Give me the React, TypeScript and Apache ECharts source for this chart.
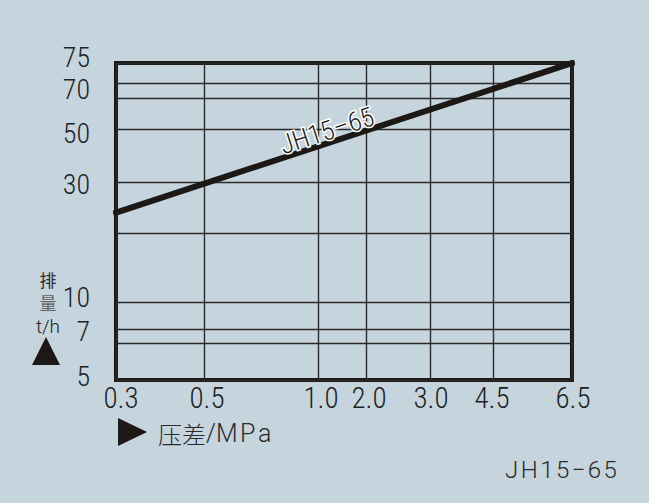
import React, { useEffect, useRef } from "react";
import * as echarts from "echarts";

// ---- data ----
const xTickValues = [0.3, 0.5, 1.0, 2.0, 3.0, 4.5, 6.5];
const xTickLabels = ["0.3", "0.5", "1.0", "2.0", "3.0", "4.5", "6.5"];
const yGridValues = [5, 6, 7, 10, 20, 30, 50, 60, 70, 75];
const yLabelValues = [5, 7, 10, 30, 50, 70];
const yTopLabelValues = [75];
const seriesName = "JH15–65";
const flowX = [0.3, 6.5];
const flowY = [24, 75];

// ---- the chart's own (hand-drawn, non-uniform) scales ----
const xScaleStops = [0, 88, 202, 250, 314, 377, 456];
const yScaleStops = [0, 37, 51, 78, 147, 198, 251, 282, 297, 317];

// label nudges (px) as printed in the original
const yLabelNudge: Record<string, number> = { "75": -6, "70": 6, "50": 4, "30": 2, "10": -5, "7": 2, "5": -4 };
const xLabelNudge: Record<string, number> = { "0.3": 5, "0.5": 3, "1.0": 3, "2.0": 3, "3.0": 1, "4.5": -1, "6.5": 1 };

function interp(v: number, vals: number[], stops: number[]) {
  for (let i = 0; i < vals.length - 1; i++) {
    if (v <= vals[i + 1] || i === vals.length - 2) {
      const t = (v - vals[i]) / (vals[i + 1] - vals[i]);
      return stops[i] + t * (stops[i + 1] - stops[i]);
    }
  }
  return stops[0];
}
const sx = (v: number) => interp(v, xTickValues, xScaleStops);
const sy = (v: number) => interp(v, yGridValues, yScaleStops);

const COND = "'Roboto Condensed', 'Open Sans', sans-serif";
const SANS = "Roboto, 'Liberation Sans', Arial, sans-serif";
const TEXT = "#1f1f1f";
const INK = "#1c1816";

export default function App() {
  const ref = useRef<HTMLDivElement>(null);
  useEffect(() => {
    if (!ref.current) return;
    const chart = echarts.init(ref.current, null, { renderer: "svg" });
    const xPos = xTickValues.map(sx);
    const yPos = yGridValues.map(sy);
    const nearest = (p: number, pos: number[]) => {
      let best = 0;
      pos.forEach((q, i) => {
        if (Math.abs(q - p) < Math.abs(pos[best] - p)) best = i;
      });
      return best;
    };
    const yLabelStyle = (v: number) => {
      const n = yLabelNudge[String(v)] || 0;
      return {
        fontFamily: COND,
        fontSize: 28,
        fontWeight: 300,
        lineHeight: 8,
        color: TEXT,
        padding: n < 0 ? [0, 0, -2 * n, 0] : [2 * n, 0, 0, 0],
      };
    };
    const makeYAxis = (vals: number[], withGrid: boolean) => {
      const pos = vals.map(sy);
      const rich: Record<string, any> = {};
      vals.forEach((v, i) => (rich["y" + i] = yLabelStyle(v)));
      return {
        type: "value",
        position: "left",
        min: yScaleStops[0],
        max: yScaleStops[yScaleStops.length - 1],
        axisLine: { show: false },
        axisTick: { show: false, customValues: withGrid ? yPos : pos },
        splitLine: { show: withGrid, lineStyle: { color: "#2a2a2a", width: 1.4 } },
        axisLabel: {
          customValues: pos,
          interval: 0,
          hideOverlap: false,
          formatter: (v: number) => {
            const i = nearest(v, pos);
            return `{y${i}|${vals[i]}}`;
          },
          rich,
          margin: 26,
        },
      };
    };
    const xRich: Record<string, any> = {};
    xTickLabels.forEach((s, i) => {
      const n = xLabelNudge[s] || 0;
      xRich["x" + i] = {
        fontFamily: COND,
        fontSize: 29,
        fontWeight: 300,
        lineHeight: 26,
        color: TEXT,
        padding: n > 0 ? [0, 0, 0, 2 * n] : [0, -2 * n, 0, 0],
      };
    });
    chart.setOption({
      animation: false,
      backgroundColor: "#c6d4dd",
      grid: {
        left: 116,
        top: 63,
        right: 77,
        bottom: 123,
        show: true,
        borderWidth: 4,
        borderColor: INK,
        backgroundColor: "transparent",
      },
      xAxis: {
        type: "value",
        min: xScaleStops[0],
        max: xScaleStops[xScaleStops.length - 1],
        axisLine: { show: false },
        axisTick: { show: false, customValues: xPos },
        splitLine: { show: true, lineStyle: { color: "#2a2a2a", width: 1.4 } },
        axisLabel: {
          customValues: xPos,
          interval: 0,
          hideOverlap: false,
          formatter: (v: number) => {
            const i = nearest(v, xPos);
            return `{x${i}|${xTickLabels[i]}}`;
          },
          rich: xRich,
          margin: 5,
          showMinLabel: true,
          showMaxLabel: true,
        },
      },
      yAxis: [makeYAxis(yLabelValues, true), makeYAxis(yTopLabelValues, false)],
      series: [
        {
          type: "line",
          name: seriesName,
          yAxisIndex: 0,
          data: flowX.map((x, i) => [sx(x), sy(flowY[i])]),
          showSymbol: false,
          symbol: "none",
          lineStyle: { color: INK, width: 6, cap: "square" },
          z: 5,
        },
      ],
      graphic: [
        {
          type: "text",
          x: 327,
          y: 131,
          rotation: (18 * Math.PI) / 180,
          z: 10,
          style: {
            text: seriesName,
            fontFamily: COND,
            fontSize: 27,
            fontWeight: 300,
            fill: TEXT,
            stroke: "#ffffff",
            lineWidth: 3,
            align: "center",
            verticalAlign: "middle",
          },
        },
        {
          type: "text",
          x: 48,
          y: 279,
          style: { text: "排", fontFamily: "'Noto Sans CJK SC'", fontSize: 17, lineHeight: 16, fill: "#2a2a2a", align: "center", verticalAlign: "middle" },
        },
        {
          type: "text",
          x: 48,
          y: 302,
          style: { text: "量", fontFamily: "'Noto Sans CJK SC'", fontSize: 17, lineHeight: 16, fill: "#5c6268", align: "center", verticalAlign: "middle" },
        },
        {
          type: "text",
          x: 48,
          y: 326,
          style: { text: "t/h", fontFamily: SANS, fontSize: 19, fontWeight: 300, lineHeight: 16, fill: TEXT, align: "center", verticalAlign: "middle" },
        },
        {
          type: "polygon",
          shape: { points: [[32, 365], [46, 337], [60, 365]] },
          style: { fill: INK },
        },
        {
          type: "polygon",
          shape: { points: [[118, 418], [147, 432], [118, 446]] },
          style: { fill: INK },
        },
        {
          type: "text",
          x: 158,
          y: 433,
          style: {
            text: "{cn|压差}{en|/M\u200aP\u200aa}",
            rich: {
              cn: { fontFamily: "'Noto Sans CJK SC'", fontSize: 24, fontWeight: 300, fill: "#2a2a2a", color: "#2a2a2a" },
              en: { fontFamily: SANS, fontSize: 25, fontWeight: 300, fill: "#2a2a2a", color: "#2a2a2a" },
            },
            align: "left",
            verticalAlign: "middle",
          },
        },
        {
          type: "text",
          x: 561,
          y: 470,
          style: {
            text: "J\u200aH\u200a1\u200a5\u200a−\u200a6\u200a5",
            fontFamily: SANS,
            fontSize: 24,
            fontWeight: 300,
            fill: "#2a2a2a",
            align: "center",
            verticalAlign: "middle",
          },
        },
      ],
    });
    return () => chart.dispose();
  }, []);
  return (
    <div
      ref={ref}
      style={{ position: "fixed", left: 0, top: 0, width: 649, height: 503 }}
    />
  );
}
